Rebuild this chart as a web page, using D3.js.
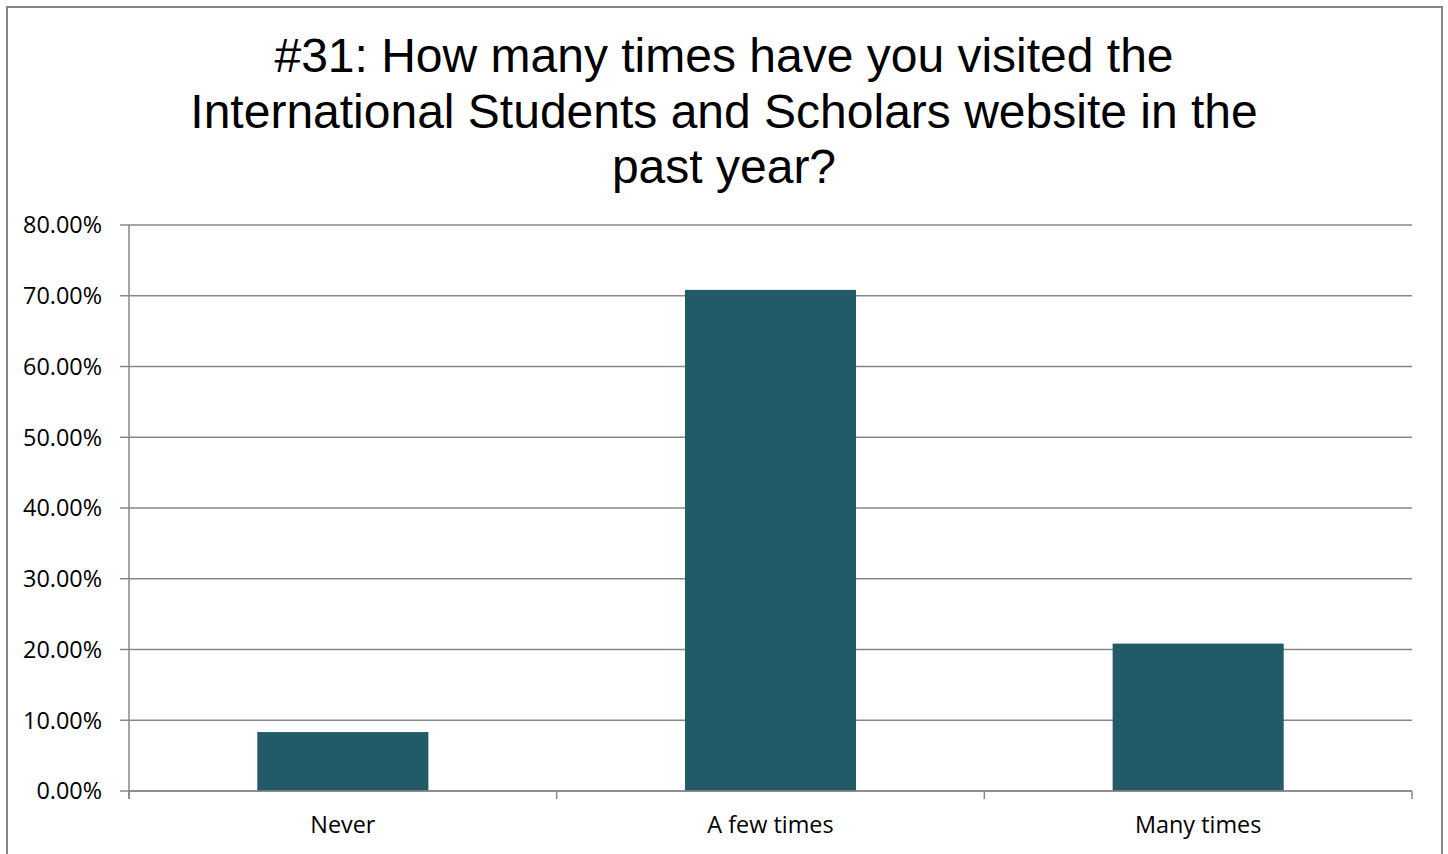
<!DOCTYPE html>
<html>
<head>
<meta charset="utf-8">
<script src="https://d3js.org/d3.v7.min.js"></script>
<style>
  body { margin: 0; background: #fff; }
  svg { display: block; }
</style>
</head>
<body>
<script type="text/javascript">

// chart data
var titleLines = ["#31: How many times have you visited the",
                  "International Students and Scholars website in the",
                  "past year?"];
var categories = ["Never", "A few times", "Many times"];
var shares = [8.33, 70.83, 20.83];   // percent
var yTicks = [0, 10, 20, 30, 40, 50, 60, 70, 80];

var width = 1448,
    height = 854;

var margin = {top: 225, right: 36, bottom: 63, left: 129};

var svg = d3.select("body").append("svg")
    .attr("width", width)
    .attr("height", height);

// outer frame (bottom edge runs off the picture)
svg.append("rect")
    .attr("x", 7).attr("y", 7)
    .attr("width", 1435).attr("height", 900)
    .attr("fill", "#fff")
    .attr("stroke", "#878787")
    .attr("stroke-width", 2);

// title
svg.append("text")
    .attr("text-anchor", "middle")
    .attr("font-family", "'Liberation Sans', Arial, sans-serif")
    .attr("font-size", 48)
    .attr("fill", "#000")
  .selectAll("tspan")
    .data(titleLines)
  .enter().append("tspan")
    .attr("x", 724)
    .attr("y", (d, i) => 72 + i * 55.5)
    .text(d => d);

var x = d3.scaleBand()
    .domain(categories)
    .range([margin.left, width - margin.right])
    .paddingInner(0.6)
    .paddingOuter(0.3);

var y = d3.scaleLinear()
    .domain([0, 80])
    .range([height - margin.bottom, margin.top]);

var gridColor = "#878787";
var labelFont = "'Open Sans', sans-serif",
    labelSize = 23.4;

// horizontal gridlines
svg.append("g")
  .selectAll("line")
    .data(yTicks)
  .enter().append("line")
    .attr("x1", margin.left - 9)
    .attr("x2", width - margin.right)
    .attr("y1", d => y(d))
    .attr("y2", d => y(d))
    .attr("stroke", gridColor)
    .attr("stroke-width", 1.3);

// y labels
svg.append("g")
    .attr("font-family", labelFont)
    .attr("font-size", labelSize)
    .attr("fill", "#000")
    .attr("text-anchor", "end")
  .selectAll("text")
    .data(yTicks)
  .enter().append("text")
    .attr("x", 102)
    .attr("y", d => y(d))
    .attr("dy", "0.36em")
    .text(d => d3.format(".2f")(d) + "%");

// bars
svg.append("g")
  .selectAll("rect")
    .data(categories)
  .enter().append("rect")
    .attr("x", d => x(d))
    .attr("width", x.bandwidth())
    .attr("y", (d, i) => y(shares[i]))
    .attr("height", (d, i) => y(0) - y(shares[i]))
    .attr("fill", "#225a68");

// y axis line
svg.append("line")
    .attr("x1", margin.left).attr("x2", margin.left)
    .attr("y1", y(80)).attr("y2", y(0) + 8)
    .attr("stroke", gridColor)
    .attr("stroke-width", 1.5);

// x axis line + ticks at category boundaries
svg.append("line")
    .attr("x1", margin.left).attr("x2", width - margin.right)
    .attr("y1", y(0)).attr("y2", y(0))
    .attr("stroke", gridColor)
    .attr("stroke-width", 1.5);

var step = x.step();
var bounds = d3.range(categories.length + 1).map(i => margin.left + i * step);
svg.append("g")
  .selectAll("line")
    .data(bounds)
  .enter().append("line")
    .attr("x1", d => d).attr("x2", d => d)
    .attr("y1", y(0)).attr("y2", y(0) + 8)
    .attr("stroke", gridColor)
    .attr("stroke-width", 1.5);

// x labels
svg.append("g")
    .attr("font-family", labelFont)
    .attr("font-size", labelSize)
    .attr("fill", "#000")
    .attr("text-anchor", "middle")
  .selectAll("text")
    .data(categories)
  .enter().append("text")
    .attr("x", d => x(d) + x.bandwidth() / 2)
    .attr("y", 833)
    .text(d => d);

</script>
</body>
</html>
